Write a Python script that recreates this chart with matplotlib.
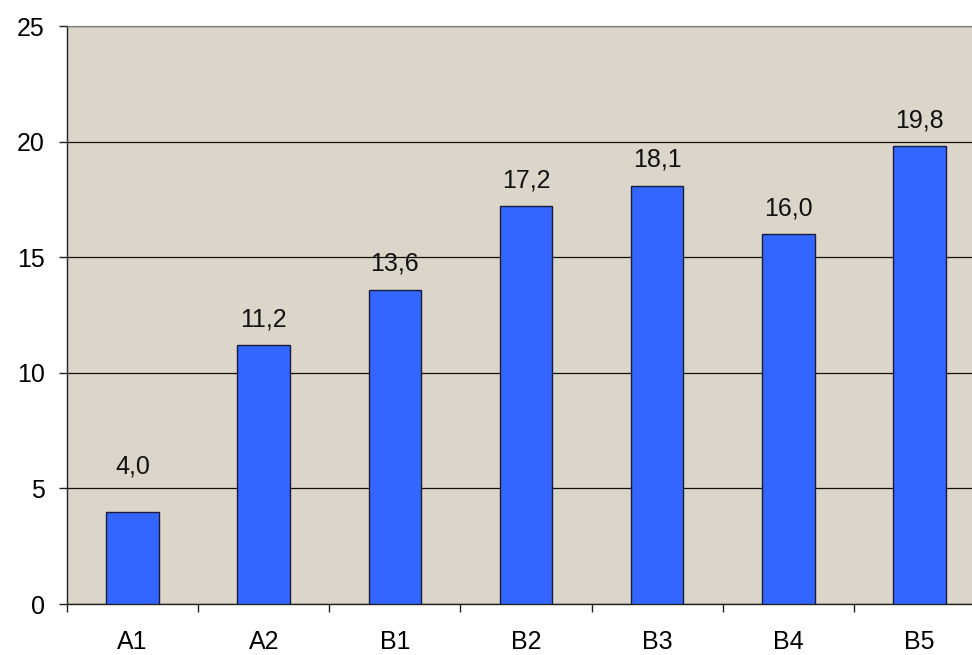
import numpy as np
import matplotlib
matplotlib.use('Agg')
import matplotlib.pyplot as plt
from matplotlib.ticker import FixedLocator

# data
categories = ['A1', 'A2', 'B1', 'B2', 'B3', 'B4', 'B5']
values = [4.0, 11.2, 13.6, 17.2, 18.1, 16.0, 19.8]
labels = ['4,0', '11,2', '13,6', '17,2', '18,1', '16,0', '19,8']
yticks = [0, 5, 10, 15, 20, 25]

plt.rcParams['font.family'] = ['Liberation Sans', 'DejaVu Sans']

fig = plt.figure(figsize=(9.72, 6.55), dpi=100)
# plot area runs past the right edge of the picture, like the original
ax = fig.add_axes([67/972, 51/655, 918/972, 578/655])
ax.set_facecolor('#dcd5c9')

x = np.arange(len(categories))
bars = ax.bar(x, values, width=0.4, color='#3366ff', edgecolor='#1a1a3a',
              linewidth=1.0, zorder=3)

# label offsets in points (the first label sits higher, clear of the 5 gridline)
label_offsets = [24, 10, 10, 10, 10, 10, 10]
for xi, v, lab, off in zip(x, values, labels, label_offsets):
    ax.annotate(lab, (xi, v), xytext=(0, off), textcoords='offset points',
                ha='center', va='bottom', fontsize=18, color='#111111')

ax.set_xlim(-0.5, len(categories) - 0.5)
ax.set_ylim(0, 25)
ax.set_yticks(yticks)
ax.yaxis.grid(True, color='#111111', linewidth=0.9, zorder=1)
ax.set_axisbelow(True)

ax.set_xticks(x)
ax.set_xticklabels(categories)
ax.xaxis.set_minor_locator(FixedLocator(np.arange(-0.5, len(categories), 1.0)))
ax.tick_params(axis='x', which='major', length=0, pad=19, labelsize=18)
ax.tick_params(axis='x', which='minor', length=6, width=1, color='#222222')
ax.tick_params(axis='y', length=6, width=1, pad=10, labelsize=18, color='#222222')

for side in ['left', 'bottom']:
    ax.spines[side].set_color('#222222')
    ax.spines[side].set_linewidth(1)
ax.spines['top'].set_color('#777777')
ax.spines['right'].set_visible(False)

fig.savefig('out.png', dpi=100)
